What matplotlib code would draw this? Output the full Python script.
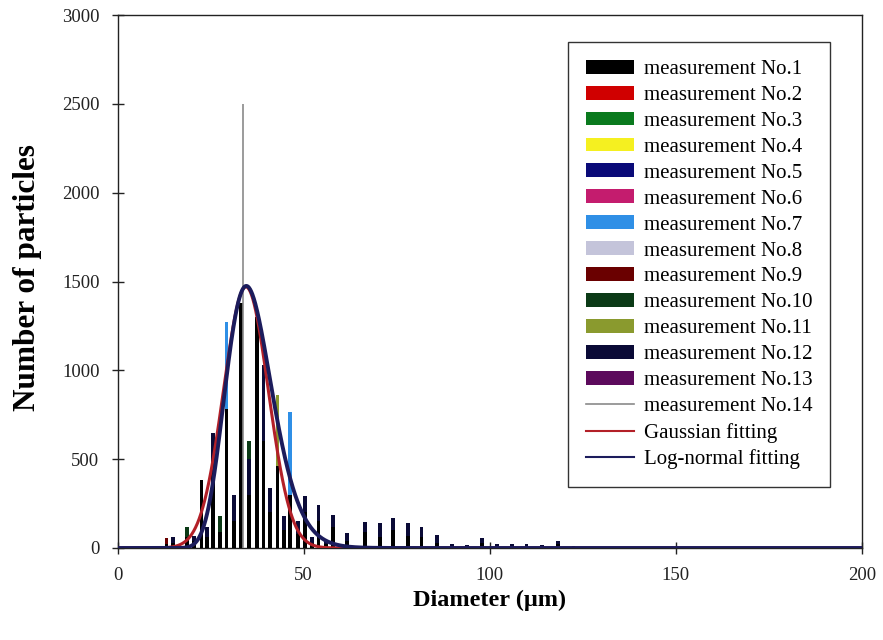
import numpy as np
import matplotlib
matplotlib.use("Agg")
import matplotlib.pyplot as plt
from matplotlib.patches import Patch
from matplotlib.lines import Line2D

plt.rcParams['font.family'] = ['Liberation Serif', 'DejaVu Serif']

# Bin centres (µm) shared by the histogram measurements
diameter_um = [13.2, 15.0, 18.6, 20.5, 22.6, 24.1, 25.7, 27.5, 29.3, 31.2,
               33.2, 35.3, 37.4, 39.2, 41.0, 43.0, 44.7, 46.3, 48.4, 50.4,
               52.2, 54.0, 56.0, 57.9, 61.6, 66.5, 70.5, 74.1, 78.1, 81.7,
               85.8, 89.8, 93.9, 97.9, 101.9, 105.9, 109.9, 114.0, 118.4, 122.5]

# Particle counts per bin, one list per measurement
meas_01 = [20, 30, 60, 40, 385, 60, 420, 90, 781, 150, 1380, 300, 1300, 600, 200, 460, 100, 300, 80, 200,
           30, 150, 20, 120, 40, 90, 60, 100, 70, 60, 30, 10, 5, 30, 10, 10, 5, 5, 20, 0]
meas_02 = [10, 5, 40, 20, 90, 30, 120, 40, 220, 60, 320, 160, 380, 260, 70, 140, 30, 90, 20, 60,
           5, 30, 0, 25, 5, 20, 10, 20, 10, 10, 5, 0, 0, 5, 0, 0, 0, 0, 0, 0]
meas_03 = [0, 0, 10, 5, 50, 10, 80, 20, 180, 40, 250, 120, 300, 200, 50, 100, 20, 60, 15, 40,
           0, 20, 0, 15, 5, 10, 10, 15, 10, 5, 0, 0, 0, 0, 0, 0, 0, 0, 0, 0]
meas_04 = [0, 0, 5, 0, 30, 5, 60, 10, 120, 30, 200, 80, 220, 150, 30, 70, 10, 40, 10, 30,
           0, 15, 0, 10, 0, 5, 5, 10, 5, 5, 0, 0, 0, 0, 0, 0, 0, 0, 0, 0]
meas_05 = [5, 10, 30, 10, 120, 30, 200, 60, 350, 120, 500, 250, 600, 450, 120, 200, 50, 120, 40, 90,
           10, 50, 5, 40, 15, 30, 25, 35, 25, 20, 10, 0, 0, 10, 0, 0, 0, 0, 5, 0]
meas_06 = [0, 0, 10, 0, 60, 10, 100, 20, 200, 50, 300, 150, 350, 250, 60, 120, 30, 80, 20, 50,
           0, 30, 0, 20, 5, 15, 10, 20, 10, 10, 0, 0, 0, 0, 0, 0, 0, 0, 0, 0]
meas_07 = [0, 0, 30, 0, 100, 0, 200, 0, 1273, 100, 500, 200, 600, 400, 100, 300, 0, 763, 0, 100,
           0, 80, 0, 60, 0, 40, 0, 50, 0, 30, 0, 0, 0, 15, 0, 0, 0, 0, 5, 0]
meas_08 = [0, 0, 0, 0, 50, 0, 100, 0, 200, 0, 300, 600, 400, 250, 0, 200, 0, 100, 0, 50,
           0, 30, 0, 20, 0, 10, 0, 10, 0, 5, 0, 0, 0, 0, 0, 0, 0, 0, 0, 0]
meas_09 = [57, 10, 80, 20, 150, 40, 250, 100, 400, 150, 600, 350, 700, 500, 150, 250, 60, 150, 50, 100,
           10, 60, 10, 50, 20, 40, 40, 60, 40, 30, 10, 5, 0, 10, 5, 5, 0, 0, 10, 0]
meas_10 = [0, 20, 120, 30, 200, 50, 300, 180, 500, 200, 700, 600, 900, 800, 250, 400, 120, 200, 100, 150,
           20, 100, 10, 80, 30, 60, 50, 80, 60, 50, 20, 5, 5, 20, 5, 5, 5, 5, 10, 5]
meas_11 = [0, 0, 20, 0, 100, 0, 150, 50, 300, 100, 400, 200, 500, 300, 100, 860, 50, 150, 30, 80,
           0, 50, 0, 40, 10, 30, 20, 40, 20, 20, 10, 0, 0, 5, 0, 0, 0, 0, 0, 0]
meas_12 = [10, 62, 40, 70, 250, 120, 650, 60, 600, 300, 900, 500, 1000, 1030, 340, 300, 180, 250, 150, 290,
           60, 240, 40, 187, 85, 149, 141, 170, 141, 121, 74, 20, 15, 57, 25, 20, 20, 15, 40, 10]
meas_13 = [0, 5, 20, 10, 80, 20, 150, 40, 300, 80, 450, 200, 500, 350, 90, 150, 40, 100, 30, 70,
           5, 40, 5, 30, 10, 25, 20, 30, 20, 15, 5, 0, 0, 5, 0, 0, 0, 0, 0, 0]

# Measurement No.14 is plotted as a thin line
meas_14_diam = [33.8]
meas_14_count = [2497]

# Fitted distribution parameters
gauss_amp, gauss_mean, gauss_sigma = 1470, 34.5, 6.0
lognorm_amp, lognorm_mode, lognorm_s = 1475, 34.6, 0.18

bar_series = [meas_01, meas_02, meas_03, meas_04, meas_05, meas_06, meas_07,
              meas_08, meas_09, meas_10, meas_11, meas_12, meas_13]
bar_colors = ['#000000', '#d00000', '#0a7a1e', '#f5f020', '#0a0a78', '#c41c6e', '#2f8fe6',
              '#c4c4da', '#6a0000', '#0b3a16', '#8a9a2e', '#0a0a36', '#5c0a5c']
# stacking layer of each series: dark series are drawn in front of pale ones
bar_layer = [3.9, 2.0, 2.0, 2.0, 3.3, 2.0, 2.0,
             2.0, 3.4, 3.5, 2.0, 3.7, 3.2]
legend_labels = ['measurement No.%d' % k for k in range(1, 15)] + ['Gaussian fitting', 'Log-normal fitting']
line14_color = '#8a8a8a'
gauss_color = '#b32028'
lognorm_color = '#1c1c5c'

fig = plt.figure(figsize=(8.83, 6.40), dpi=100)
ax = fig.add_axes([0.13307, 0.14375, 0.84315, 0.83281])

for counts, color, layer in zip(bar_series, bar_colors, bar_layer):
    bars = ax.bar(diameter_um, counts, width=1.0, color=color, linewidth=0)
    for patch, h in zip(bars.patches, counts):
        # pale series: taller bars behind shorter ones so each shows its top
        patch.set_zorder(layer + (0.9 * (1 - h / 3000.0) if layer < 3 else 0))

ax.vlines(meas_14_diam, 0, meas_14_count, colors=line14_color, linewidth=1.2, zorder=4.2)

x = np.linspace(0.5, 200, 2000)
gauss = gauss_amp * np.exp(-(x - gauss_mean) ** 2 / (2 * gauss_sigma ** 2))
lognorm = lognorm_amp * np.exp(-(np.log(x / lognorm_mode)) ** 2 / (2 * lognorm_s ** 2))
ax.plot(x, gauss, color=gauss_color, linewidth=2.2, zorder=4.5)
ax.plot(x, lognorm, color=lognorm_color, linewidth=2.8, zorder=5)

ax.set_xlim(0, 200)
ax.set_ylim(0, 3000)
ax.set_xticks([0, 50, 100, 150, 200])
ax.set_yticks(np.arange(0, 3001, 500))
ax.tick_params(direction='inout', length=8, width=1, labelsize=13.5, colors='#222222')
ax.tick_params(axis='x', pad=10)
ax.tick_params(axis='y', pad=9)
for sp in ax.spines.values():
    sp.set_color('#222222')
    sp.set_linewidth(1.0)

fig.text(489.75 / 883, 1 - 600 / 640, 'Diameter (μm)', ha='center', va='center',
         fontsize=17.5, fontweight='bold')
fig.text(28 / 883, 1 - 278 / 640, 'Number of particles', ha='center', va='center',
         rotation=90, fontsize=22.5, fontweight='bold')

handles = [Patch(facecolor=c, edgecolor='none') for c in bar_colors]
handles += [Line2D([], [], color=line14_color, linewidth=1.2),
            Line2D([], [], color=gauss_color, linewidth=1.5),
            Line2D([], [], color=lognorm_color, linewidth=1.5)]
leg = ax.legend(handles, legend_labels, loc='upper left',
                bbox_to_anchor=(568 / 883, 1 - 42 / 640), bbox_transform=fig.transFigure,
                fontsize=15, frameon=True, fancybox=False, framealpha=1,
                edgecolor='#333333', handlelength=2.3, handleheight=0.65,
                handletextpad=0.5, labelspacing=0.32, borderpad=0.85, borderaxespad=0)
leg.get_frame().set_linewidth(1.0)
leg.set_zorder(10)

fig.savefig('out.png', dpi=100)
